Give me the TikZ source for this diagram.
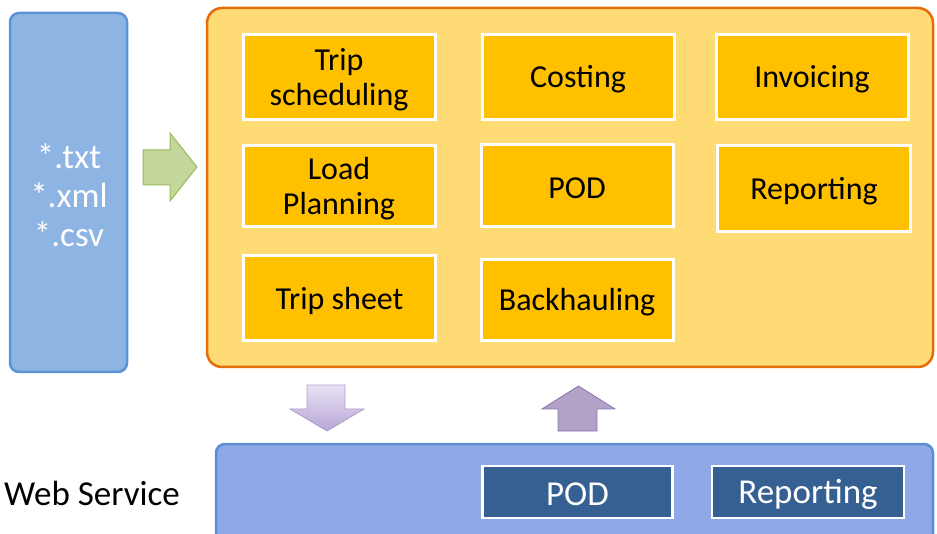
\documentclass[tikz,border=0pt]{standalone}
\usepackage{fontspec}
\setmainfont{Carlito}
\definecolor{leftfill}{HTML}{8EB4E3}
\definecolor{leftdraw}{HTML}{5B93D6}
\definecolor{contfill}{HTML}{FFDB75}
\definecolor{contdraw}{HTML}{E46C0A}
\definecolor{boxfill}{HTML}{FFC000}
\definecolor{grfill}{HTML}{C3D69B}
\definecolor{grdraw}{HTML}{9BBB59}
\definecolor{barfill}{HTML}{8EA9E6}
\definecolor{bardraw}{HTML}{5B8ED6}
\definecolor{dkblue}{HTML}{376092}
\definecolor{pupfill}{HTML}{B3A2C7}
\definecolor{pupdraw}{HTML}{8C74B0}
\definecolor{pdtop}{HTML}{E8E2F4}
\definecolor{pdbot}{HTML}{B8A6D8}
\begin{document}
\begin{tikzpicture}[x=1pt,y=-1pt,
  obox/.style={rectangle, fill=boxfill, draw=white, line width=3pt, inner sep=0pt},
  otext/.style={align=center, font=\fontsize{32}{35}\selectfont, text=black, inner sep=0pt},
  bbox/.style={rectangle, fill=dkblue, draw=white, line width=2.5pt, align=center,
    font=\fontsize{35}{38}\selectfont, text=white, inner sep=0pt},
  ]
\useasboundingbox (0,0) rectangle (937,534);
% left file box
\node[draw=leftdraw, line width=2.5pt, fill=leftfill, rounded corners=9pt,
  minimum width=117pt, minimum height=359pt, inner sep=0pt] (files) at (68.5,192.5) {};
\node[text=white, align=center, font=\fontsize{35}{39}\selectfont] (ftxt) at (69,195) {*.txt\\*.xml\\*.csv};
% container
\node[draw=contdraw, line width=2.5pt, fill=contfill, rounded corners=15pt,
  minimum width=726pt, minimum height=359pt, inner sep=0pt] (cont) at (570,187.5) {};
% green arrow
\draw[draw=grdraw, fill=grfill, line width=1pt, line join=miter]
  (143,150) -- (170,150) -- (170,133) -- (197,167) -- (170,201) -- (170,185) -- (143,185) -- cycle;
% modules
\node[obox, minimum width=192pt, minimum height=85pt] (trips) at (339,77.5) {};
\node[obox, minimum width=192pt, minimum height=85pt] (cost) at (578,77.5) {};
\node[obox, minimum width=192pt, minimum height=85pt] (inv) at (812,77.5) {};
\node[obox, minimum width=192pt, minimum height=81pt] (load) at (339,186.5) {};
\node[obox, minimum width=192pt, minimum height=82pt] (pod) at (577,186) {};
\node[obox, minimum width=193pt, minimum height=86pt] (rep) at (814,189) {};
\node[obox, minimum width=192pt, minimum height=85pt] (sheet) at (339.5,298.5) {};
\node[obox, minimum width=192pt, minimum height=81pt] (back) at (577,300.5) {};
\node[otext] (tripsT) at ([yshift=-2pt]trips.center) {Trip\\scheduling};
\node[otext] (costT) at ([yshift=-2pt]cost.center) {Costing};
\node[otext] (invT) at ([yshift=-2pt]inv.center) {Invoicing};
\node[otext] (loadT) at ([yshift=-2pt]load.center) {Load\\Planning};
\node[otext] (podT) at ([yshift=-2pt]pod.center) {POD};
\node[otext] (repT) at ([yshift=-2pt]rep.center) {Reporting};
\node[otext] (sheetT) at ([yshift=-2pt]sheet.center) {Trip sheet};
\node[otext] (backT) at ([yshift=-2pt]back.center) {Backhauling};
% purple arrows
\draw[draw=pupdraw!70, top color=pdtop, bottom color=pdbot, line width=0.8pt, line join=miter]
  (307,385) -- (345,385) -- (345,409) -- (364,409) -- (327,431) -- (290,409) -- (307,409) -- cycle;
\draw[draw=pupdraw, fill=pupfill, line width=0.8pt, line join=miter]
  (558,431) -- (597,431) -- (597,409) -- (615,409) -- (578.5,386) -- (542,409) -- (558,409) -- cycle;
% bottom bar
\node[draw=bardraw, line width=2.5pt, fill=barfill, rounded corners=9pt,
  minimum width=717pt, minimum height=110pt, inner sep=0pt] (bar) at (574.5,499) {};
\node[bbox, minimum width=190pt, minimum height=52pt] (wpod) at (577.5,492) {};
\node[bbox, minimum width=192pt, minimum height=52pt] (wrep) at (808,492) {};
\node[bbox, draw=none, fill=none] (wpodT) at ([yshift=-2pt]wpod.center) {POD};
\node[bbox, draw=none, fill=none] (wrepT) at ([yshift=-2pt]wrep.center) {Reporting};
\node[font=\fontsize{35}{38}\selectfont, text=black, anchor=west, inner sep=0pt] (ws) at (4,493) {Web Service};
\end{tikzpicture}
\end{document}
